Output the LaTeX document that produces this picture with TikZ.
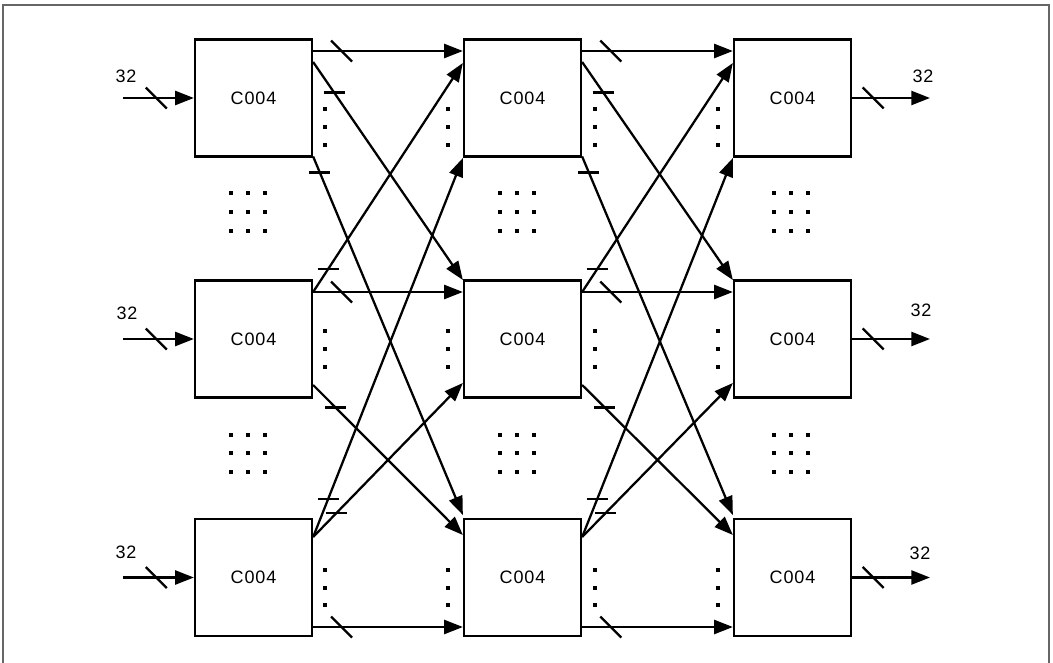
\documentclass[tikz,border=0pt]{standalone}
\usepackage{fontspec}
\setmainfont{Liberation Sans}[LetterSpace=5]
\usetikzlibrary{calc,arrows.meta}
\newcommand\linkset[2]{%
  \draw[link] ($(#11.east)+(0,-47)$) -- coordinate[pos=0.19] (#1#2s1) ($(#21.west)+(0,-47)$);
  \draw[link] ($(#11.east)+(0,-36)$) -- coordinate[pos=0.14] (#1#2t12) ($(#22.west)+(0,-59)$);
  \draw[link] ($(#11.east)+(0,58.5)$) -- coordinate[pos=0.045] (#1#2t13) ($(#23.west)+(0,-62.5)$);
  \draw[link] ($(#12.east)+(0,-47)$) -- coordinate[pos=0.1] (#1#2t21) ($(#21.west)+(0,-35)$);
  \draw[link] ($(#12.east)+(0,-47)$) -- coordinate[pos=0.19] (#1#2s2) ($(#22.west)+(0,-47)$);
  \draw[link] ($(#12.east)+(0,46)$) -- coordinate[pos=0.15] (#1#2t23) ($(#23.west)+(0,-42.5)$);
  \draw[link] ($(#13.east)+(0,-40.5)$) -- coordinate[pos=0.1] (#1#2t31) ($(#21.west)+(0,60)$);
  \draw[link] ($(#13.east)+(0,-40.5)$) -- coordinate[pos=0.156] (#1#2t32) ($(#22.west)+(0,44)$);
  \draw[link] ($(#13.east)+(0,49.5)$) -- coordinate[pos=0.19] (#1#2s3) ($(#23.west)+(0,49.5)$);
  \foreach \s in {s1,s2,s3}
    \draw[tick] ($(#1#2\s)+(-10.5,-10.5)$) -- ($(#1#2\s)+(10.5,10.5)$);
  \foreach \t in {t12,t13,t21,t23,t31,t32}
    \draw[tick] ($(#1#2\t)+(-10.5,0)$) -- ($(#1#2\t)+(10.5,0)$);
}
\begin{document}
\begin{tikzpicture}[x=0.75pt,y=-0.75pt,
  box/.style={draw,line width=1.7pt,minimum width=87.75pt,minimum height=87.75pt,inner sep=0pt,font=\fontsize{13.5}{15}\selectfont},
  link/.style={line width=1.7pt,-{Triangle[length=14pt,width=10.5pt]}},
  tick/.style={line width=1.7pt},
  lbl/.style={font=\fontsize{13.5}{15}\selectfont,inner sep=0pt},
  ]
\useasboundingbox (0,0) rectangle (1053,663);
\draw[black!60,line width=0.9pt] (3,663) -- (3,5) -- (1049,5) -- (1049,663);

% boxes
\node[box] (A1) at (253.5,98) {C004};
\node[box] (A2) at (253.5,339) {C004};
\node[box] (A3) at (253.5,577.5) {C004};
\node[box] (B1) at (522.5,98) {C004};
\node[box] (B2) at (522.5,339) {C004};
\node[box] (B3) at (522.5,577.5) {C004};
\node[box] (C1) at (792.5,98) {C004};
\node[box] (C2) at (792.5,339) {C004};
\node[box] (C3) at (792.5,577.5) {C004};

% interconnections
\linkset{A}{B}
\linkset{B}{C}

% inputs and outputs
\coordinate (in1) at (123,98);
\coordinate (in2) at (123,339);
\coordinate (in3) at (123,577.5);
\coordinate (out1) at (930,98);
\coordinate (out2) at (930,339);
\coordinate (out3) at (930,577.5);
\foreach \i in {1,2,3}{
  \draw[link] (in\i) -- coordinate[pos=0.47] (si\i) (A\i.west);
  \draw[tick] ($(si\i)+(-10.5,-10.5)$) -- ($(si\i)+(10.5,10.5)$);
  \draw[link] (C\i.east) -- coordinate[pos=0.27] (so\i) (out\i);
  \draw[tick] ($(so\i)+(-10.5,-10.5)$) -- ($(so\i)+(10.5,10.5)$);
}
\node[lbl] (li1) at (126,76) {32};
\node[lbl] (li2) at (127,313) {32};
\node[lbl] (li3) at (126,552) {32};
\node[lbl] (lo1) at (923,76) {32};
\node[lbl] (lo2) at (921,310) {32};
\node[lbl] (lo3) at (920,553) {32};

% dot grids
\foreach \cx in {231,248,265,500,517,534,774,791,808}
  \foreach \cy in {193,212,231,435,453,472}
    \fill (\cx-2,\cy-2) rectangle ++(4,4);
% vertical dots near box edges
\foreach \cx in {325,448,595,718}
  \foreach \cy in {109,127,145,331,349,367,570,588,605}
    \fill (\cx-2,\cy-2) rectangle ++(4,4);
\end{tikzpicture}
\end{document}
